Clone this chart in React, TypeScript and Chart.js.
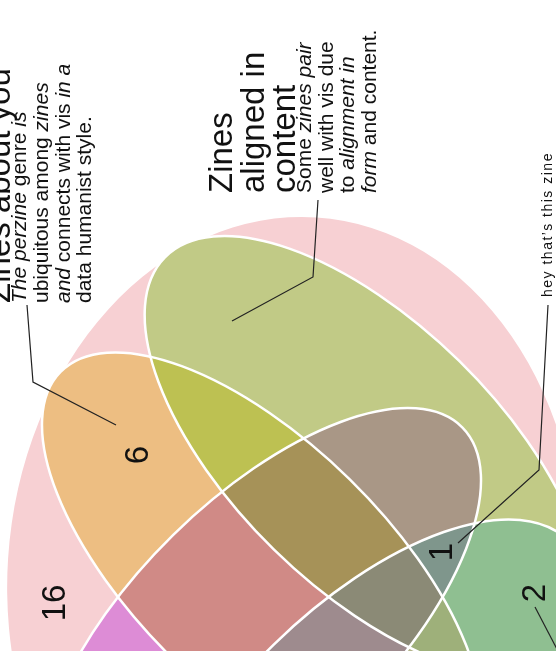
import { useEffect, useRef } from 'react';
import { Chart, registerables } from 'chart.js';
Chart.register(...registerables);

const W = 556;
const H = 651;

// Sets: P = all zines (pink), G = aligned in content, O = about you, B, T
const SET_NAMES = ['P', 'G', 'O', 'B', 'T'];
const ELLIPSE_CX = [293.2, 366.6, 261.5, 261.5, 366.6];
const ELLIPSE_CY = [576.7, 455.3, 569.2, 624.8, 738.7];
const ELLIPSE_RX = [285.7, 282.6, 281.6, 281.6, 282.6];
const ELLIPSE_RY = [360.0, 132.2, 126.0, 126.0, 132.2];
const ELLIPSE_ROT_DEG = [3.7, 44.46, 44.46, -44.46, -44.46];

const P_COLOR = '#f7d0d3';
// region colours keyed by bitmask G=1, O=2, B=4, T=8
const REGION_COLORS = ['', '#c1ca86', '#edbe82', '#bdc152', '#dd8cd6', '#a99786', '#d08a86', '#a69258',
  '#86c4c0', '#8fbf91', '#b4b48c', '#9eb07a', '#a98cc0', '#7f968c', '#9e8b8e', '#8b8a76'];

const REGION_LABELS = ['16', '6', '1', '2'];
const REGION_LABEL_X = [65, 148, 452, 545];
const REGION_LABEL_Y = [603, 455, 552, 593];

const LEADERS = [
  [[116, 425], [33, 382], [27, 305]],
  [[232, 321], [313, 277], [318, 200]],
  [[458, 543], [539, 470], [548, 305]],
  [[535, 607], [560, 655]],
];

type Seg = [string, boolean];
const TEXTS: { x: number; y: number; size: number; segs: Seg[]; ls?: number; align?: string }[] = [
  { x: 9.5, y: 303, size: 33, segs: [['Zines about you', false]] },
  { x: 25.5, y: 303, size: 21, segs: [['The perzine', true], [' genre ', false], ['is', true]] },
  { x: 47.5, y: 303, size: 21, segs: [['ubiquitous among ', false], ['zines', true]] },
  { x: 69.5, y: 303, size: 21, segs: [['and', true], [' connects with vis ', false], ['in a', true]] },
  { x: 91, y: 303, size: 21, segs: [['data humanist style.', false]] },
  { x: 232, y: 193, size: 33, segs: [['Zines', false]] },
  { x: 263.5, y: 193, size: 33, segs: [['aligned in', false]] },
  { x: 295, y: 193, size: 33, segs: [['content', false]] },
  { x: 311, y: 193, size: 21, segs: [['Some ', false], ['zines pair', true]] },
  { x: 333, y: 193, size: 21, segs: [['well with vis due', false]] },
  { x: 354, y: 193, size: 21, segs: [['to ', false], ['alignment in', true]] },
  { x: 376, y: 193, size: 21, segs: [['form', true], [' and content.', false]] },
  { x: 552, y: 297, size: 14, ls: 1.5, segs: [['hey that\u2019s this zine', false]] },
  ...REGION_LABELS.map((t, i) => ({ x: REGION_LABEL_X[i], y: REGION_LABEL_Y[i], size: 33, align: 'center', segs: [[t, false]] as Seg[] })),
];

const FONT = '"Liberation Sans", Arial, Helvetica, sans-serif';

const vennPlugin = {
  id: 'venn',
  beforeDatasetsDraw(chart: any) {
    const ctx: CanvasRenderingContext2D = chart.ctx;
    const xs = chart.scales.x, ys = chart.scales.y;
    const k = xs.getPixelForValue(1) - xs.getPixelForValue(0);
    const pts = chart.getDatasetMeta(0).data;
    const E = ELLIPSE_CX.map((_, i) => ({ x: pts[i].x, y: pts[i].y, rx: ELLIPSE_RX[i] * k, ry: ELLIPSE_RY[i] * k, rot: ELLIPSE_ROT_DEG[i] * Math.PI / 180 }));
    const mk = (e: any, withRect: boolean) => {
      const p = new Path2D();
      if (withRect) p.rect(-20, -20, chart.width + 40, chart.height + 40);
      p.moveTo(e.x + e.rx * Math.cos(e.rot), e.y + e.rx * Math.sin(e.rot));
      p.ellipse(e.x, e.y, e.rx, e.ry, e.rot, 0, Math.PI * 2);
      return p;
    };
    ctx.save();
    ctx.fillStyle = P_COLOR;
    ctx.fill(mk(E[0], false));
    for (let m = 1; m < 16; m++) {
      ctx.save();
      for (let i = 0; i < 4; i++) {
        const e = E[i + 1];
        if (m & (1 << i)) ctx.clip(mk(e, false)); else ctx.clip(mk(e, true), 'evenodd');
      }
      ctx.fillStyle = REGION_COLORS[m];
      ctx.fillRect(0, 0, chart.width, chart.height);
      ctx.restore();
    }
    ctx.strokeStyle = '#ffffff';
    ctx.lineWidth = 2.5;
    for (let i = 1; i < 5; i++) ctx.stroke(mk(E[i], false));
    ctx.strokeStyle = '#222';
    ctx.lineWidth = 1.2;
    for (const L of LEADERS) {
      ctx.beginPath();
      L.forEach(([x, y], j) => { const px = xs.getPixelForValue(x), py = ys.getPixelForValue(y); if (j) ctx.lineTo(px, py); else ctx.moveTo(px, py); });
      ctx.stroke();
    }
    ctx.fillStyle = '#111';
    for (const t of TEXTS) {
      ctx.save();
      ctx.translate(xs.getPixelForValue(t.x), ys.getPixelForValue(t.y));
      ctx.rotate(-Math.PI / 2);
      (ctx as any).letterSpacing = (t.ls || 0) + 'px';
      ctx.textBaseline = 'alphabetic';
      let total = 0;
      for (const [s, it] of t.segs) { ctx.font = `${it ? 'italic ' : ''}${t.size}px ${FONT}`; total += ctx.measureText(s).width; }
      let cx = t.align === 'center' ? -total / 2 : 0;
      ctx.textAlign = 'left';
      for (const [s, it] of t.segs) {
        ctx.font = `${it ? 'italic ' : ''}${t.size}px ${FONT}`;
        ctx.fillText(s, cx, 0);
        cx += ctx.measureText(s).width;
      }
      ctx.restore();
    }
    ctx.restore();
  },
};

export default function App() {
  const ref = useRef<HTMLCanvasElement>(null);
  useEffect(() => {
    document.body.style.margin = '0';
    const chart = new Chart(ref.current!, {
      type: 'scatter',
      data: { datasets: [{ data: ELLIPSE_CX.map((x, i) => ({ x, y: ELLIPSE_CY[i] })), pointRadius: 0, pointHoverRadius: 0, label: SET_NAMES.join('') }] },
      options: {
        animation: false, responsive: true, maintainAspectRatio: false, events: [],
        layout: { padding: 0 },
        scales: { x: { type: 'linear', min: 0, max: W, display: false }, y: { type: 'linear', min: 0, max: H, reverse: true, display: false } },
        plugins: { legend: { display: false }, tooltip: { enabled: false } },
      },
      plugins: [vennPlugin],
    } as any);
    return () => chart.destroy();
  }, []);
  return (
    <div style={{ width: W, height: H, position: 'relative' }}>
      <canvas ref={ref} />
    </div>
  );
}
